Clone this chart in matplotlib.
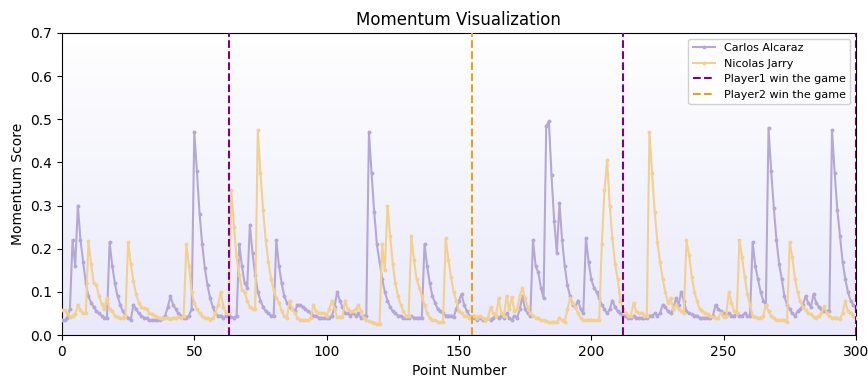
import numpy as np
import matplotlib
matplotlib.use("Agg")
import matplotlib.pyplot as plt
from matplotlib.colors import LinearSegmentedColormap

alcaraz = [
    0.035, 0.035, 0.04, 0.06, 0.22, 0.16, 0.30, 0.22, 0.17, 0.12,
    0.09, 0.075, 0.065, 0.055, 0.05, 0.045, 0.04, 0.04, 0.215, 0.16,
    0.12, 0.09, 0.07, 0.055, 0.045, 0.04, 0.035, 0.07, 0.06, 0.05,
    0.045, 0.04, 0.04, 0.035, 0.035, 0.035, 0.035, 0.035, 0.04, 0.045,
    0.065, 0.09, 0.07, 0.06, 0.05, 0.045, 0.04, 0.04, 0.045, 0.06,
    0.47, 0.38, 0.28, 0.21, 0.155, 0.115, 0.085, 0.065, 0.05, 0.045,
    0.045, 0.04, 0.045, 0.045, 0.042, 0.04, 0.045, 0.21, 0.16, 0.12,
    0.11, 0.255, 0.19, 0.14, 0.10, 0.08, 0.065, 0.055, 0.05, 0.045,
    0.045, 0.22, 0.16, 0.12, 0.09, 0.075, 0.065, 0.06, 0.055, 0.07,
    0.07, 0.065, 0.06, 0.055, 0.05, 0.045, 0.045, 0.04, 0.04, 0.04,
    0.04, 0.04, 0.045, 0.065, 0.10, 0.08, 0.065, 0.05, 0.05, 0.045,
    0.05, 0.045, 0.05, 0.04, 0.045, 0.045, 0.47, 0.375, 0.285, 0.21,
    0.17, 0.13, 0.10, 0.08, 0.065, 0.055, 0.05, 0.045, 0.045, 0.04,
    0.04, 0.04, 0.045, 0.04, 0.04, 0.04, 0.04, 0.21, 0.16, 0.12,
    0.09, 0.075, 0.06, 0.055, 0.05, 0.045, 0.045, 0.045, 0.042, 0.06,
    0.08, 0.095, 0.07, 0.055, 0.045, 0.04, 0.04, 0.035, 0.04, 0.035,
    0.035, 0.04, 0.035, 0.04, 0.045, 0.04, 0.045, 0.04, 0.05, 0.04,
    0.035, 0.045, 0.04, 0.06, 0.09, 0.06, 0.05, 0.045, 0.22, 0.16,
    0.145, 0.11, 0.085, 0.485, 0.495, 0.37, 0.265, 0.19, 0.305, 0.22,
    0.16, 0.115, 0.09, 0.07, 0.065, 0.08, 0.06, 0.05, 0.225, 0.17,
    0.13, 0.11, 0.10, 0.085, 0.07, 0.06, 0.05, 0.06, 0.08, 0.065,
    0.055, 0.05, 0.045, 0.045, 0.04, 0.04, 0.045, 0.04, 0.04, 0.04,
    0.04, 0.04, 0.045, 0.045, 0.05, 0.045, 0.05, 0.07, 0.065, 0.055,
    0.05, 0.06, 0.085, 0.07, 0.10, 0.08, 0.055, 0.05, 0.048, 0.045,
    0.045, 0.04, 0.04, 0.04, 0.04, 0.04, 0.045, 0.07, 0.06, 0.055,
    0.05, 0.045, 0.05, 0.045, 0.045, 0.05, 0.045, 0.045, 0.05, 0.045,
    0.045, 0.215, 0.16, 0.13, 0.10, 0.08, 0.07, 0.48, 0.38, 0.295,
    0.22, 0.165, 0.13, 0.09, 0.07, 0.06, 0.05, 0.045, 0.055, 0.06,
    0.07, 0.09, 0.075, 0.065, 0.095, 0.075, 0.065, 0.06, 0.055, 0.055,
    0.055, 0.475, 0.375, 0.29, 0.23, 0.17, 0.13, 0.10, 0.08, 0.07,
    0.065,
]

jarry = [
    0.058, 0.057, 0.05, 0.042, 0.045, 0.048, 0.07, 0.058, 0.05, 0.05,
    0.217, 0.165, 0.12, 0.115, 0.09, 0.073, 0.06, 0.086, 0.06, 0.055,
    0.045, 0.042, 0.04, 0.04, 0.045, 0.215, 0.165, 0.125, 0.095, 0.075,
    0.065, 0.062, 0.06, 0.05, 0.048, 0.045, 0.042, 0.04, 0.04, 0.04,
    0.04, 0.038, 0.04, 0.04, 0.042, 0.04, 0.045, 0.21, 0.16, 0.10,
    0.075, 0.06, 0.05, 0.045, 0.04, 0.04, 0.035, 0.04, 0.05, 0.07,
    0.10, 0.065, 0.05, 0.05, 0.335, 0.25, 0.18, 0.14, 0.105, 0.10,
    0.08, 0.065, 0.06, 0.06, 0.475, 0.375, 0.29, 0.22, 0.17, 0.13,
    0.105, 0.085, 0.075, 0.055, 0.045, 0.04, 0.08, 0.06, 0.05, 0.04,
    0.035, 0.035, 0.035, 0.035, 0.04, 0.07, 0.055, 0.05, 0.05, 0.05,
    0.045, 0.06, 0.08, 0.06, 0.042, 0.042, 0.042, 0.08, 0.06, 0.055,
    0.055, 0.06, 0.07, 0.055, 0.04, 0.035, 0.032, 0.03, 0.028, 0.026,
    0.025, 0.21, 0.15, 0.30, 0.23, 0.165, 0.12, 0.09, 0.07, 0.055,
    0.045, 0.045, 0.23, 0.175, 0.13, 0.11, 0.09, 0.07, 0.05, 0.04,
    0.035, 0.035, 0.03, 0.03, 0.03, 0.225, 0.175, 0.135, 0.10, 0.08,
    0.055, 0.05, 0.045, 0.045, 0.04, 0.045, 0.045, 0.04, 0.045, 0.04,
    0.035, 0.04, 0.065, 0.05, 0.045, 0.085, 0.05, 0.045, 0.09, 0.06,
    0.088, 0.055, 0.06, 0.09, 0.11, 0.085, 0.065, 0.05, 0.045, 0.04,
    0.04, 0.035, 0.035, 0.032, 0.03, 0.03, 0.03, 0.03, 0.04, 0.035,
    0.03, 0.06, 0.085, 0.075, 0.065, 0.05, 0.04, 0.035, 0.035, 0.035,
    0.035, 0.035, 0.035, 0.035, 0.21, 0.335, 0.405, 0.30, 0.225, 0.165,
    0.13, 0.08, 0.06, 0.05, 0.045, 0.045, 0.075, 0.055, 0.05, 0.052,
    0.045, 0.045, 0.47, 0.375, 0.285, 0.215, 0.17, 0.13, 0.10, 0.075,
    0.085, 0.06, 0.07, 0.06, 0.055, 0.05, 0.22, 0.185, 0.135, 0.10,
    0.078, 0.06, 0.055, 0.05, 0.048, 0.045, 0.042, 0.04, 0.04, 0.05,
    0.042, 0.045, 0.10, 0.075, 0.055, 0.05, 0.22, 0.18, 0.135, 0.095,
    0.07, 0.045, 0.042, 0.04, 0.04, 0.045, 0.07, 0.055, 0.045, 0.04,
    0.035, 0.035, 0.035, 0.035, 0.03, 0.215, 0.18, 0.13, 0.10, 0.078,
    0.065, 0.058, 0.05, 0.048, 0.042, 0.04, 0.045, 0.05, 0.068, 0.05,
    0.045, 0.04, 0.04, 0.04, 0.038, 0.05, 0.08, 0.055, 0.05, 0.045,
    0.04,
]

p1_wins = [63, 212, 300]
p2_wins = [155]

x_a = np.arange(len(alcaraz))
x_j = np.arange(len(jarry))

fig = plt.figure(figsize=(8.68, 3.79), dpi=100)
ax = fig.add_axes([0.0714, 0.116, 0.9146, 0.797])

# background gradient
cmap = LinearSegmentedColormap.from_list("bg", ["#e9e9fb", "#ffffff"])
grad = np.linspace(0, 1, 256).reshape(-1, 1)
ax.imshow(grad, aspect="auto", cmap=cmap, origin="lower",
          extent=[0, 300, 0, 0.7], zorder=0)

ax.plot(x_a, alcaraz, color="#b6a8d6", marker="o", markersize=1.8,
        linewidth=1.5, label="Carlos Alcaraz", zorder=3)
ax.plot(x_j, jarry, color="#f3d08f", marker="o", markersize=1.8,
        linewidth=1.5, label="Nicolas Jarry", zorder=3)

for i, v in enumerate(p1_wins):
    ax.axvline(v, color="#800080", linestyle="--", linewidth=1.5, zorder=4,
               label="Player1 win the game" if i == 0 else None)
for i, v in enumerate(p2_wins):
    ax.axvline(v, color="#e8a317", linestyle="--", linewidth=1.5, zorder=4,
               label="Player2 win the game" if i == 0 else None)

ax.set_xlim(0, 300)
ax.set_ylim(0, 0.7)
ax.set_xticks([0, 50, 100, 150, 200, 250, 300])
ax.set_yticks(np.arange(0, 0.71, 0.1))
ax.set_xlabel("Point Number", fontsize=10)
ax.set_ylabel("Momentum Score", fontsize=10)
ax.set_title("Momentum Visualization", fontsize=12)
ax.legend(loc="upper right", fontsize=8, framealpha=0.9)

fig.savefig("out.png", dpi=100)
